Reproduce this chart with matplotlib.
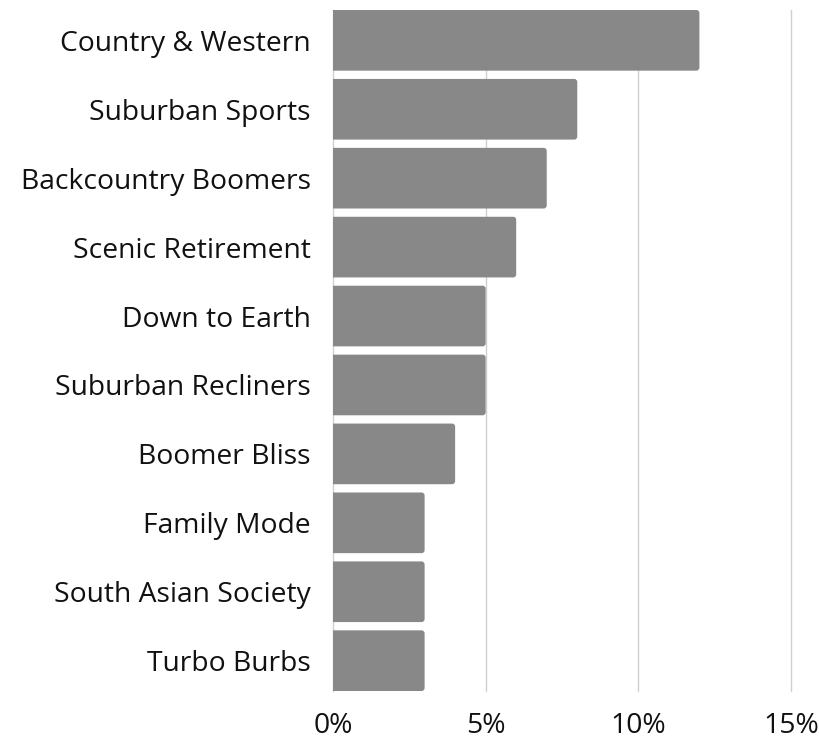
import matplotlib.pyplot as plt
from matplotlib.patches import FancyBboxPatch
from matplotlib.ticker import FuncFormatter

segments = ["Country & Western", "Suburban Sports", "Backcountry Boomers",
            "Scenic Retirement", "Down to Earth", "Suburban Recliners",
            "Boomer Bliss", "Family Mode", "South Asian Society", "Turbo Burbs"]
shares = [12, 8, 7, 6, 5, 5, 4, 3, 3, 3]
xticks = [0, 5, 10, 15]

plt.rcParams['font.family'] = ['Open Sans', 'DejaVu Sans']

fig = plt.figure(figsize=(8.19, 7.41), dpi=100)
ax = fig.add_axes([333 / 819, 50 / 741, 458 / 819, 681 / 741])

ypos = list(range(len(segments)))[::-1]
bars = ax.barh(ypos, shares, height=0.88, color="#888888")

# swap plain rectangles for ones with rounded right corners
for b in bars:
    x, y = b.get_xy()
    w, h = b.get_width(), b.get_height()
    b.set_visible(False)
    r = 0.1
    p = FancyBboxPatch((x - r * 2, y), w + r * 2, h,
                       boxstyle=f"round,pad=0,rounding_size={r}",
                       mutation_aspect=0.44, facecolor="#888888",
                       edgecolor="none", zorder=2)
    ax.add_patch(p)

ax.set_xlim(0, 15)
ax.set_ylim(-0.44, len(segments) - 0.56)
ax.set_xticks(xticks)
ax.xaxis.set_major_formatter(FuncFormatter(lambda v, _: f"{v:.0f}%"))
ax.set_yticks(ypos)
ax.set_yticklabels(segments, va="center_baseline")
ax.grid(axis="x", color="#d0d0d0", linewidth=1)
for gl in ax.get_xgridlines():
    gl.set_clip_on(False)
ax.set_axisbelow(True)
for s in ax.spines.values():
    s.set_visible(False)
ax.tick_params(length=0, labelsize=20.3, colors="#111111")
ax.tick_params(axis="y", pad=16)
ax.tick_params(axis="x", pad=15)

fig.savefig("out.png", dpi=100)
